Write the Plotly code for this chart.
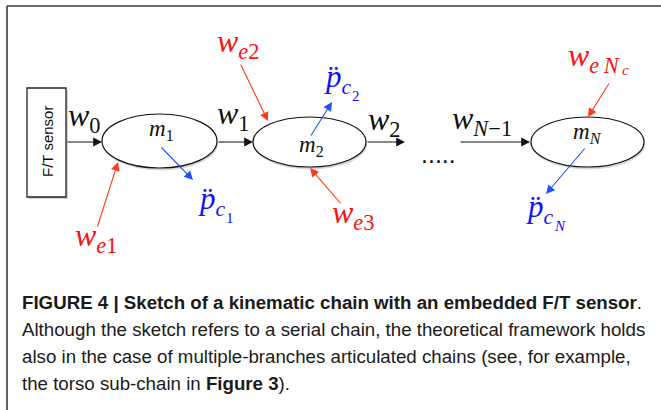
import plotly.graph_objects as go

# ---- content (labels) ----
caption_lines = [
    "<b>FIGURE 4 | Sketch of a kinematic chain with an embedded F/T sensor</b>.",
    "Although the sketch refers to a serial chain, the theoretical framework holds",
    "also in the case of multiple-branches articulated chains (see, for example,",
    "the torso sub-chain in <b>Figure 3</b>).",
]
sensor_label = "F/T sensor"
link_labels = ["<i>m</i><sub>1</sub>", "<i>m</i><sub>2</sub>", "<i>m</i><sub><i>N</i></sub>"]
wrench_labels = ["<i>w</i><sub>0</sub>", "<i>w</i><sub>1</sub>", "<i>w</i><sub>2</sub>",
                 "<i>w</i><sub><i>N</i>\u22121</sub>"]
ext_labels = ["<i>w</i><sub><i>e</i>1</sub>", "<i>w</i><sub><i>e</i>2</sub>",
              "<i>w</i><sub><i>e</i>3</sub>", "<i>w</i><sub><i>e\u2009N</i></sub>"]
acc_labels = ["<i>p\u0308</i><sub><i>c</i></sub>"] * 3
acc_sub = ["1", "2", "<i>N</i>"]

# ---- layout geometry (page pixels) ----
W, H = 661, 410
ellipses = [(102, 217, 114, 168), (253, 366, 117, 167), (531, 644, 117, 167)]
RED_T, RED_A = "#ff1010", "#ff3a1a"
BLUE_T, BLUE_A = "#1010ff", "#2050ff"
MATH = "Liberation Serif"

fig = go.Figure()
shapes, ann = [], []

# frame
shapes.append(dict(type="line", x0=7, y0=6, x1=W, y1=6, line=dict(color="#3a3a3a", width=1.6)))
shapes.append(dict(type="line", x0=7, y0=6, x1=7, y1=H, line=dict(color="#3a3a3a", width=1.6)))

# sensor box
shapes.append(dict(type="rect", x0=29, y0=90, x1=68, y1=199, fillcolor="rgba(0,0,0,0.18)", line=dict(width=0)))
shapes.append(dict(type="rect", x0=27, y0=88, x1=66, y1=197, fillcolor="white", line=dict(color="#222", width=1.3)))
ann.append(dict(x=47, y=142, text=sensor_label, textangle=-90, showarrow=False,
                font=dict(family="Liberation Sans", size=15, color="#111")))

# ellipses
for (x0, x1, y0, y1) in ellipses:
    shapes.append(dict(type="circle", x0=x0 + 1, x1=x1 + 1, y0=y0 + 2.5, y1=y1 + 2.5,
                       fillcolor="rgba(0,0,0,0.16)", line=dict(width=0)))
    shapes.append(dict(type="circle", x0=x0, x1=x1, y0=y0, y1=y1, fillcolor="white",
                       line=dict(color="#111", width=1.2)))

def arrow(x0, y0, x1, y1, color, head=2, size=1.6, width=1.1):
    ann.append(dict(x=x1, y=y1, ax=x0, ay=y0, xref="x", yref="y", axref="x", ayref="y",
                    showarrow=True, arrowhead=head, arrowsize=size, arrowwidth=width,
                    arrowcolor=color, text=""))

# chain arrows
arrow(66, 142, 102, 142, "#111")
arrow(217, 142, 253, 142, "#111")
arrow(366, 142, 405, 142, "#111")
arrow(459, 142, 530, 142, "#111")

# external wrench arrows
arrow(97, 228, 118, 162, RED_A)
arrow(240, 63, 268, 121, RED_A)
arrow(342, 205, 310, 168, RED_A)
arrow(610, 82, 588, 117, RED_A)

# acceleration arrows
arrow(160, 146, 193, 180, BLUE_A)
arrow(310, 137, 332, 102, BLUE_A)
arrow(586, 147, 546, 194, BLUE_A)
fig.add_trace(go.Scatter(x=[160, 310, 586], y=[146, 137, 147], mode="markers",
                         marker=dict(color=BLUE_A, size=7), hoverinfo="skip"))

def label(x, y, text, color, size):
    ann.append(dict(x=x, y=y, text=text, showarrow=False, xanchor="left", yanchor="middle",
                    font=dict(family=MATH, size=size, color=color)))

# wrench labels
for (x, y), t in zip([(66, 117), (215, 115), (366, 121), (450, 120)], wrench_labels):
    label(x, y, t, "#111", 32)
# link labels
for (x, y), t in zip([(147, 130), (297, 146), (571, 133)], link_labels):
    label(x, y, t, "#111", 23)
# external labels
for (x, y), t in zip([(73, 237), (215, 43), (330, 214), (566, 57)], ext_labels):
    label(x, y, t, RED_T, 32)
label(620, 70, "<i>c</i>", RED_T, 15)
# acceleration labels
for (x, y), t in zip([(196, 201), (322, 79), (524, 209)], acc_labels):
    label(x, y, t, BLUE_T, 31)
for (x, y), t in zip([(224, 218), (350, 96), (552, 226)], acc_sub):
    label(x, y, t, BLUE_T, 15)

# ellipsis dots
ann.append(dict(x=438, y=154, text=".....", showarrow=False,
                font=dict(family="Liberation Sans", size=25, color="#111")))

# caption
for i, line in enumerate(caption_lines):
    ann.append(dict(x=20, y=302 + 27 * i, text=line, showarrow=False, xanchor="left",
                    yanchor="middle", font=dict(family="Liberation Sans", size=18.7, color="#1a1a1a")))

fig.update_layout(
    width=W, height=H, margin=dict(l=0, r=0, t=0, b=0),
    paper_bgcolor="white", plot_bgcolor="white", showlegend=False,
    xaxis=dict(range=[0, W], visible=False, fixedrange=True),
    yaxis=dict(range=[H, 0], visible=False, fixedrange=True),
    shapes=shapes, annotations=ann,
)
fig.write_html("out.html", config={"displayModeBar": False},
               post_script="document.body.style.margin='0px';document.body.style.overflow='hidden';")
